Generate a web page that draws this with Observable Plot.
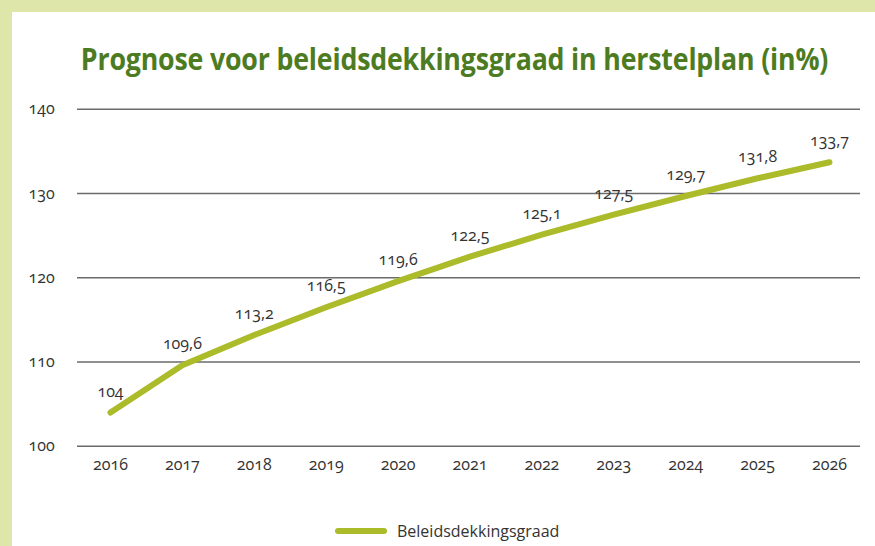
<!DOCTYPE html>
<html><head><meta charset="utf-8">
<script src="https://cdn.jsdelivr.net/npm/d3@7"></script>
<script src="https://cdn.jsdelivr.net/npm/@observablehq/plot@0.6"></script>
<style>
body{margin:0;width:875px;height:546px;background:#dee6a9;overflow:hidden;font-family:"Open Sans",sans-serif;position:relative;}
#panel{position:absolute;left:12px;top:12px;width:863px;height:534px;background:#fff;}
#title{position:absolute;left:0;top:40px;width:910px;text-align:center;line-height:36px;white-space:nowrap;}
#title span{display:inline-block;font-family:"Open Sans",sans-serif;font-weight:700;font-size:31px;color:#4d7b22;transform:scaleX(0.862);transform-origin:center;letter-spacing:-0.2px;}
#chart{position:absolute;left:0;top:90px;}
#legend{position:absolute;left:335px;top:519px;height:24px;display:flex;align-items:center;font-size:16px;color:#333;}
#legend .sw{width:52px;height:6px;border-radius:3px;background:#abbb29;margin-right:10px;}
svg text{font-variant-numeric:oldstyle-nums;}
</style></head>
<body>
<div id="panel"></div>
<div id="title"><span>Prognose voor beleidsdekkingsgraad in herstelplan (in%)</span></div>
<div id="chart"></div>
<div id="legend"><div class="sw"></div><span>Beleidsdekkingsgraad</span></div>
<script>
const years = [2016, 2017, 2018, 2019, 2020, 2021, 2022, 2023, 2024, 2025, 2026];
const values = [104, 109.6, 113.2, 116.5, 119.6, 122.5, 125.1, 127.5, 129.7, 131.8, 133.7];
const valueLabels = ["104", "109,6", "113,2", "116,5", "119,6", "122,5", "125,1", "127,5", "129,7", "131,8", "133,7"];
const yTicks = [100, 110, 120, 130, 140];
const seriesName = "Beleidsdekkingsgraad";

const data = years.map((year, i) => ({year, value: values[i], label: valueLabels[i]}));

const chart = Plot.plot({
  width: 875,
  height: 400,
  marginLeft: 77,
  marginRight: 15,
  marginTop: 18.7,
  marginBottom: 44.3,
  style: {fontFamily: "'Open Sans', sans-serif", fontSize: "16px", color: "#333", background: "transparent", overflow: "visible"},
  x: {type: "linear", domain: [2016, 2026], range: [110, 829]},
  y: {domain: [100, 140]},
  marks: [
    Plot.ruleY(yTicks, {stroke: "#6b6b6b", strokeWidth: 1.5}),
    Plot.line(data, {x: "year", y: "value", stroke: "#abbb29", strokeWidth: 6, strokeLinecap: "round", strokeLinejoin: "round"}),
    Plot.text(data, {x: "year", y: "value", text: "label", dy: -21, fontSize: 16, fill: "#333"}),
    Plot.axisX({ticks: years, tickFormat: d => String(d), tickSize: 0, tickPadding: 12, fontSize: 16, label: null}),
    Plot.axisY({ticks: yTicks, tickSize: 0, tickPadding: 49, textAnchor: "start", fontSize: 16, label: null})
  ]
});
document.getElementById("chart").appendChild(chart);
</script>
</body></html>
